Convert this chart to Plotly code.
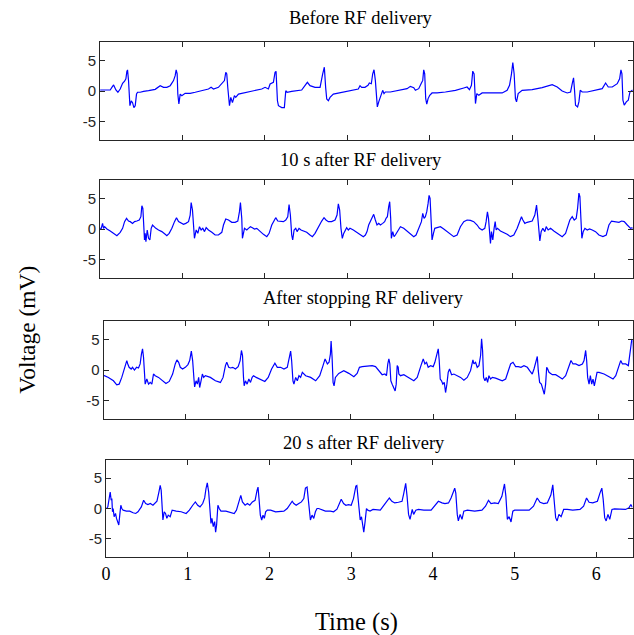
import plotly.graph_objects as go

# ---------------- data ----------------
titles = ["Before RF delivery", "10 s after RF delivery",
          "After stopping RF delivery", "20 s after RF delivery"]
x_ticks = [0, 1, 2, 3, 4, 5, 6]
y_ticks = [-5, 0, 5]
y_tick_text = ["-5", "0", "5"]

t_before = [0.0, 0.123, 0.143, 0.164, 0.192, 0.216, 0.244, 0.273, 0.297, 0.313, 0.325, 0.333, 0.345, 0.354, 0.362, 0.378,
            0.394, 0.410, 0.426, 0.442, 0.455, 0.487, 0.527, 0.588, 0.669, 0.729, 0.770, 0.810, 0.851, 0.891, 0.911, 0.923,
            0.935, 0.943, 0.956, 0.972, 0.992, 1.032, 1.093, 1.154, 1.234, 1.315, 1.347, 1.376, 1.436, 1.477, 1.509, 1.525,
            1.537, 1.549, 1.558, 1.570, 1.586, 1.606, 1.630, 1.646, 1.679, 1.760, 1.881, 1.962, 2.002, 2.042, 2.063, 2.103,
            2.123, 2.135, 2.152, 2.164, 2.204, 2.236, 2.253, 2.269, 2.325, 2.446, 2.515, 2.547, 2.608, 2.669, 2.701, 2.721,
            2.737, 2.750, 2.770, 2.790, 2.830, 2.931, 3.053, 3.133, 3.154, 3.174, 3.214, 3.251, 3.267, 3.291, 3.308, 3.324,
            3.340, 3.352, 3.364, 3.381, 3.401, 3.413, 3.429, 3.445, 3.462, 3.522, 3.623, 3.725, 3.765, 3.806, 3.826, 3.866,
            3.899, 3.915, 3.927, 3.939, 3.951, 3.964, 3.980, 4.0, 4.028, 4.089, 4.190, 4.312, 4.413, 4.453, 4.482, 4.506,
            4.522, 4.538, 4.555, 4.571, 4.595, 4.636, 4.757, 4.879, 4.939, 4.968, 4.992, 5.008, 5.024, 5.040, 5.053, 5.073,
            5.121, 5.243, 5.364, 5.486, 5.547, 5.607, 5.668, 5.709, 5.729, 5.745, 5.757, 5.769, 5.794, 5.810, 5.826, 5.850,
            5.911, 6.012, 6.093, 6.134, 6.166, 6.215, 6.275, 6.304, 6.320, 6.332, 6.344, 6.360, 6.385, 6.409, 6.429, 6.457,
            6.490]
v_before = [0.16, 0.16, 0.6, 1.0, 0.16, -0.2, 0.33, 1.26, 1.6, 2.0, 3.2, 3.44, 1.7, -1.3, -2.4, -1.6,
            -1.9, -2.7, -2.4, -0.5, -0.2, -0.2, -0.05, 0.05, 0.27, 0.87, 0.6, 0.6, 0.87, 1.7, 2.5, 3.44,
            2.8, -0.5, -2.1, -0.5, -0.77, -0.38, -0.38, -0.2, 0.05, 0.33, 0.6, 0.33, 0.6, 1.15, 1.7, 3.06,
            2.8, 0.6, -1.3, -2.4, -1.04, -1.9, -0.77, -1.04, -0.5, -0.27, 0.05, 0.33, 0.6, 0.33, 1.15, 1.42,
            3.06, 3.2, -1.6, -2.4, -2.7, -2.7, 0.05, -0.2, -0.05, 0.16, 1.42, 0.87, 0.6, 0.6, 2.8, 3.88,
            0.6, -1.3, -1.6, -1.04, -0.5, -0.2, 0.05, 0.33, 0.87, 0.6, 0.6, 0.92, 1.3, 1.19, 2.81, 3.46,
            1.73, -1.24, -2.59, -1.78, -0.97, -0.43, 0.11, -0.43, -0.16, -0.16, 0.11, 0.38, 0.76, 0.54, 0.11, 0.38,
            1.3, 1.73, 3.46, 2.81, -1.24, -2.16, -1.24, -0.7, -0.32, -0.32, -0.16, 0.11, 0.49, 0.65, 0.22, 0.92,
            3.24, 2.81, -2.05, -0.43, -0.7, -0.32, -0.32, -0.32, 0.11, 0.92, 2.81, 4.65, 2.81, -1.24, -1.78, -0.43,
            0.11, 0.22, 0.54, 1.03, 0.65, 0.0, -0.32, -0.16, 1.19, 2.16, 0.11, -2.32, -2.59, -1.78, 0.11, -0.16,
            -0.16, 0.11, 0.38, 1.3, 0.65, 0.65, 1.19, 2.0, 3.46, 2.81, -1.51, -2.32, -1.78, -1.51, -0.16, 0.11,
            -0.16]

t_10s = [0.0, 0.014, 0.030, 0.042, 0.055, 0.083, 0.123, 0.164, 0.204, 0.244, 0.273, 0.297, 0.321, 0.345, 0.366, 0.394,
         0.418, 0.446, 0.475, 0.495, 0.507, 0.519, 0.531, 0.539, 0.547, 0.556, 0.572, 0.588, 0.604, 0.620, 0.636, 0.653,
         0.677, 0.709, 0.749, 0.790, 0.810, 0.838, 0.871, 0.903, 0.927, 0.952, 0.984, 1.012, 1.040, 1.073, 1.093, 1.105,
         1.121, 1.133, 1.145, 1.166, 1.186, 1.206, 1.226, 1.246, 1.267, 1.287, 1.315, 1.356, 1.396, 1.436, 1.477, 1.497,
         1.525, 1.558, 1.598, 1.638, 1.671, 1.691, 1.703, 1.719, 1.727, 1.752, 1.780, 1.800, 1.824, 1.848, 1.873, 1.901,
         1.941, 1.982, 2.023, 2.051, 2.083, 2.111, 2.131, 2.156, 2.184, 2.224, 2.253, 2.277, 2.293, 2.309, 2.325, 2.337,
         2.354, 2.374, 2.390, 2.414, 2.438, 2.467, 2.507, 2.547, 2.576, 2.608, 2.648, 2.689, 2.717, 2.741, 2.770, 2.810,
         2.851, 2.875, 2.891, 2.907, 2.923, 2.939, 2.956, 2.972, 2.992, 3.012, 3.032, 3.073, 3.133, 3.194, 3.219, 3.239,
         3.259, 3.279, 3.300, 3.320, 3.340, 3.360, 3.381, 3.401, 3.429, 3.453, 3.470, 3.486, 3.502, 3.514, 3.526, 3.534,
         3.551, 3.567, 3.583, 3.607, 3.623, 3.644, 3.684, 3.725, 3.765, 3.806, 3.834, 3.866, 3.899, 3.915, 3.931, 3.947,
         3.964, 3.980, 3.992, 4.004, 4.016, 4.028, 4.045, 4.061, 4.089, 4.130, 4.170, 4.211, 4.251, 4.291, 4.332, 4.372,
         4.413, 4.453, 4.494, 4.534, 4.575, 4.603, 4.636, 4.668, 4.684, 4.700, 4.713, 4.725, 4.737, 4.749, 4.765, 4.781,
         4.794, 4.806, 4.822, 4.858, 4.899, 4.939, 4.980, 5.020, 5.061, 5.089, 5.113, 5.130, 5.154, 5.182, 5.211, 5.243,
         5.275, 5.296, 5.312, 5.324, 5.336, 5.352, 5.372, 5.397, 5.413, 5.437, 5.466, 5.506, 5.559, 5.607, 5.648, 5.680,
         5.700, 5.729, 5.753, 5.777, 5.794, 5.810, 5.822, 5.834, 5.846, 5.862, 5.883, 5.911, 5.939, 5.972, 6.012, 6.053,
         6.101, 6.142, 6.174, 6.206, 6.255, 6.296, 6.328, 6.360, 6.397, 6.437, 6.457, 6.478, 6.490]
v_10s = [0.11, 0.11, 0.92, 0.11, 0.38, 0.0, -0.33, -0.71, -1.09, -0.54, 0.11, 1.2, 1.74, 1.3, 1.2, 0.92,
         1.2, 1.3, 1.47, 2.01, 3.8, 3.37, 1.2, -1.79, -0.71, -2.07, -0.16, -1.52, -1.79, 0.11, 0.65, 0.38,
         0.11, -0.16, -0.43, -0.87, -1.09, -0.71, 0.11, 1.2, 1.85, 1.2, 0.92, 0.76, 0.92, 1.2, 2.28, 4.3,
         3.1, 0.11, -1.52, -0.16, -0.71, 0.38, -0.16, 0.11, -0.43, 0.22, -0.16, -0.54, -0.98, -0.98, -0.54, 0.65,
         1.63, 1.47, 1.09, 1.09, 1.3, 2.83, 4.3, 1.74, -1.52, 0.11, -0.16, 0.11, 0.38, 0.22, 0.0, 0.11,
         -0.43, -0.87, -1.25, -0.71, 0.65, 1.3, 1.85, 1.3, 1.3, 1.2, 1.47, 2.01, 4.0, 2.28, -0.98, -1.79,
         -0.16, 0.11, -0.43, 0.11, -0.16, -0.33, -0.54, -0.98, -1.25, -0.71, 0.38, 1.3, 1.85, 1.47, 1.2, 1.2,
         1.47, 2.28, 4.1, 3.1, 0.11, -1.52, -0.71, -0.16, 0.22, -0.16, 0.11, -0.16, -0.71, -1.25, -0.98, -0.43,
         0.65, 1.2, 1.74, 2.39, 1.47, 0.65, 0.92, 0.65, 0.92, 1.2, 1.74, 2.01, 3.64, 4.46, 1.74, -1.52,
         -0.43, -1.25, -0.98, -0.43, 0.11, 0.38, 0.11, -0.33, -0.71, -1.25, -0.98, 0.11, 1.2, 2.55, 1.74, 2.01,
         2.83, 4.18, 5.5, 5.0, 0.11, -1.79, -0.71, 0.11, 0.22, 0.38, 0.0, -0.43, -0.87, -1.25, -0.98, 0.38,
         1.2, 1.47, 1.41, 1.2, 0.65, 0.11, -0.16, 0.11, 1.2, 2.8, 1.74, -0.98, -2.34, -0.43, -1.79, 0.11,
         1.2, -0.16, 0.11, -0.33, -0.54, -0.87, -1.25, -0.98, 0.11, 1.2, 2.01, 1.47, 0.92, 1.09, 1.2, 1.3,
         2.28, 3.9, 1.74, -0.98, -1.96, -0.43, 0.11, -0.43, 0.38, -0.16, 0.11, -0.33, -0.87, -1.25, -0.71, 0.65,
         1.47, 2.01, 1.47, 1.74, 3.37, 5.85, 5.27, 1.74, -1.52, -0.43, 0.11, -0.16, 0.0, -0.16, -0.43, -0.98,
         -1.25, -0.98, 0.65, 1.3, 1.2, 1.09, 1.3, 1.2, 0.65, 0.11, 0.22, -0.16, 0.11]

t_stop = [0.0, 0.010, 0.059, 0.120, 0.160, 0.189, 0.221, 0.254, 0.282, 0.294, 0.310, 0.335, 0.351, 0.375, 0.400, 0.424,
          0.444, 0.460, 0.473, 0.485, 0.497, 0.505, 0.525, 0.546, 0.566, 0.586, 0.606, 0.627, 0.667, 0.708, 0.757, 0.797,
          0.838, 0.870, 0.890, 0.911, 0.931, 0.959, 0.992, 1.024, 1.045, 1.065, 1.081, 1.097, 1.105, 1.122, 1.138, 1.154,
          1.166, 1.183, 1.199, 1.215, 1.235, 1.296, 1.357, 1.418, 1.450, 1.479, 1.495, 1.519, 1.540, 1.568, 1.600, 1.633,
          1.657, 1.673, 1.686, 1.698, 1.706, 1.722, 1.742, 1.763, 1.783, 1.803, 1.819, 1.852, 1.905, 1.957, 1.998, 2.039,
          2.079, 2.108, 2.148, 2.189, 2.229, 2.249, 2.270, 2.282, 2.298, 2.310, 2.331, 2.351, 2.371, 2.391, 2.412, 2.452,
          2.513, 2.574, 2.623, 2.663, 2.688, 2.716, 2.736, 2.753, 2.761, 2.773, 2.785, 2.797, 2.813, 2.854, 2.915, 2.976,
          3.037, 3.077, 3.105, 3.138, 3.219, 3.259, 3.300, 3.340, 3.381, 3.413, 3.433, 3.449, 3.462, 3.474, 3.486, 3.502,
          3.522, 3.538, 3.551, 3.563, 3.575, 3.583, 3.603, 3.644, 3.684, 3.725, 3.765, 3.806, 3.834, 3.858, 3.879, 3.899,
          3.919, 3.939, 3.968, 4.0, 4.020, 4.045, 4.061, 4.073, 4.085, 4.101, 4.117, 4.134, 4.150, 4.166, 4.182, 4.198,
          4.223, 4.251, 4.291, 4.332, 4.372, 4.413, 4.453, 4.482, 4.494, 4.514, 4.534, 4.555, 4.575, 4.587, 4.599, 4.611,
          4.628, 4.644, 4.660, 4.676, 4.696, 4.717, 4.757, 4.798, 4.838, 4.879, 4.911, 4.939, 4.968, 5.0, 5.032, 5.065,
          5.101, 5.142, 5.170, 5.202, 5.223, 5.243, 5.263, 5.275, 5.291, 5.312, 5.332, 5.348, 5.364, 5.377, 5.389, 5.405,
          5.445, 5.486, 5.526, 5.567, 5.607, 5.640, 5.672, 5.696, 5.729, 5.769, 5.810, 5.830, 5.850, 5.862, 5.874, 5.891,
          5.907, 5.923, 5.939, 5.955, 5.972, 5.988, 6.012, 6.073, 6.134, 6.182, 6.215, 6.247, 6.275, 6.296, 6.336, 6.368,
          6.397, 6.409, 6.421, 6.433, 6.441, 6.457, 6.478]
v_stop = [-0.93, -0.93, -1.21, -1.76, -2.42, -2.31, -1.21, 0.16, 1.54, 0.99, 0.44, 0.16, 0.44, 0.0, 0.44, 0.33,
          0.99, 2.64, 3.46, 2.09, -1.21, -2.31, -1.48, -2.31, -2.03, -2.31, -0.66, -0.93, -1.21, -1.65, -2.2, -1.87,
          -0.66, 0.99, 1.65, 1.26, 0.44, 0.16, 0.44, 0.88, 1.54, 3.08, 1.54, -1.48, -2.75, -1.76, -2.31, -1.21,
          -2.86, -1.76, -0.66, -1.21, -0.93, -1.21, -1.76, -2.03, -1.21, 0.71, 1.26, 0.44, 0.33, 0.44, 0.16, 0.55,
          1.54, 3.19, 2.36, -1.21, -2.58, -1.76, -2.31, -1.48, -2.03, -1.21, -0.93, -1.21, -1.48, -1.87, -1.21, 0.16,
          1.1, 0.44, 0.44, 0.16, 0.44, 1.54, 3.08, 1.54, -1.76, -2.31, -1.21, -1.76, -0.93, -1.21, -0.38, -0.93,
          -1.21, -1.76, -0.93, 0.71, 1.81, 0.99, 1.26, 2.64, 4.73, 2.09, -2.03, -2.58, -1.21, -0.55, -0.11, -0.55,
          -1.1, -0.55, 0.44, 0.55, 0.6, 0.71, 0.55, -0.11, -0.77, -0.66, -0.93, 0.99, 1.81, 0.99, -1.76, -2.31,
          -2.86, -3.41, -2.31, 0.71, 0.44, -0.66, -0.93, -0.77, -1.1, -1.48, -1.76, -1.21, 0.16, 0.99, 1.81, 0.99,
          1.26, 0.44, 0.71, 0.55, 1.26, 2.36, 3.46, 1.54, -1.48, -1.76, -2.31, -2.03, -3.68, -2.31, -0.38, 0.16,
          -0.77, -0.66, -0.93, -1.21, -1.65, -1.21, -0.11, 1.65, 0.99, 1.26, 0.44, 0.71, 2.36, 5.11, 3.19, -1.21,
          -1.76, -1.21, -2.03, -0.93, -1.48, -1.21, -1.32, -1.48, -1.76, -1.48, -0.11, 0.99, 1.26, 0.55, 0.55, 0.44,
          0.71, 0.44, -0.11, -0.66, 0.16, 1.26, 2.2, -0.11, -2.03, -2.31, -3.13, -3.96, -2.31, 0.44, 0.16, -0.38,
          -0.77, -0.77, -1.1, -1.48, -0.93, 0.44, 1.54, 0.99, 0.99, 0.71, 0.99, 1.54, 3.19, 1.54, -1.21, -2.31,
          -0.93, -2.31, -1.48, -2.58, -1.21, -0.38, -0.38, -0.66, -1.1, -1.48, -0.93, 0.44, 1.54, 0.99, 0.99, 0.71,
          3.19, 4.95, 4.84, 0.99, -2.31, -2.86, -0.38]

t_20s = [0.0, 0.006, 0.022, 0.039, 0.051, 0.063, 0.071, 0.079, 0.087, 0.099, 0.116, 0.128, 0.144, 0.156, 0.168, 0.181,
         0.193, 0.209, 0.249, 0.290, 0.331, 0.363, 0.391, 0.432, 0.460, 0.485, 0.513, 0.542, 0.574, 0.598, 0.623, 0.647,
         0.663, 0.675, 0.688, 0.696, 0.712, 0.728, 0.744, 0.761, 0.785, 0.809, 0.858, 0.919, 0.980, 1.020, 1.061, 1.093,
         1.122, 1.150, 1.183, 1.207, 1.223, 1.239, 1.256, 1.272, 1.284, 1.296, 1.312, 1.329, 1.341, 1.353, 1.369, 1.385,
         1.406, 1.467, 1.527, 1.568, 1.596, 1.629, 1.649, 1.669, 1.702, 1.730, 1.759, 1.791, 1.824, 1.848, 1.860, 1.872,
         1.888, 1.905, 1.921, 1.937, 1.953, 1.974, 2.014, 2.075, 2.136, 2.176, 2.217, 2.249, 2.278, 2.298, 2.327, 2.359,
         2.391, 2.420, 2.440, 2.460, 2.473, 2.489, 2.501, 2.521, 2.542, 2.562, 2.582, 2.602, 2.643, 2.684, 2.744, 2.785,
         2.826, 2.854, 2.878, 2.907, 2.935, 2.968, 3.0, 3.028, 3.057, 3.069, 3.081, 3.097, 3.110, 3.126, 3.142, 3.154,
         3.170, 3.187, 3.203, 3.231, 3.267, 3.356, 3.422, 3.467, 3.498, 3.533, 3.578, 3.622, 3.644, 3.667, 3.684, 3.702,
         3.720, 3.747, 3.764, 3.791, 3.822, 3.889, 3.978, 4.022, 4.067, 4.111, 4.147, 4.191, 4.222, 4.267, 4.280, 4.298,
         4.311, 4.333, 4.356, 4.378, 4.422, 4.511, 4.6, 4.644, 4.680, 4.711, 4.756, 4.8, 4.844, 4.876, 4.893, 4.911,
         4.933, 4.956, 4.978, 5.0, 5.089, 5.178, 5.231, 5.276, 5.311, 5.356, 5.4, 5.444, 5.467, 5.484, 5.502, 5.520,
         5.542, 5.569, 5.6, 5.644, 5.711, 5.8, 5.844, 5.880, 5.911, 5.956, 6.013, 6.044, 6.067, 6.084, 6.102, 6.120,
         6.142, 6.164, 6.191, 6.222, 6.289, 6.356, 6.4, 6.422, 6.44]
v_20s = [0.0, 0.0, 0.27, 1.9, 2.72, 1.36, 1.63, -0.54, 0.0, -1.36, -0.82, -1.63, -2.45, -2.72, -1.09, 0.54,
         0.0, -0.27, -0.43, -0.43, -0.71, -0.82, -0.54, 0.27, 1.36, 0.82, 0.65, 0.82, 0.54, 0.82, 1.2, 2.72,
         3.8, 2.99, 0.0, -1.9, -0.54, -0.82, -1.63, -1.09, -1.36, -0.27, -0.43, -0.54, -0.82, -0.27, 0.54, 1.09,
         0.54, 0.27, 0.82, 1.74, 3.26, 4.24, 2.72, -1.09, -2.45, -1.63, -2.99, -2.17, -3.91, -2.72, 0.54, 0.0,
         -0.43, -0.43, -0.65, -0.82, -0.27, 1.36, 2.17, 1.09, 0.54, 0.82, 0.54, 1.09, 1.36, 2.99, 3.53, 1.63,
         -1.09, -1.9, -1.09, -1.63, -0.54, -0.27, -0.27, -0.54, -0.54, -0.43, 0.0, 0.54, 1.2, 0.82, 0.54, 0.82,
         1.09, 1.63, 3.37, 3.53, 1.63, -1.36, -1.9, -1.09, -1.63, -0.54, 0.0, 0.0, -0.27, -0.43, -0.43, -0.54,
         -0.11, 0.82, 1.52, 0.82, 0.54, 0.65, 0.54, 1.63, 3.7, 3.8, 2.17, -1.09, -1.9, -1.36, -2.72, -3.91,
         -2.17, 0.0, -0.27, -0.43, -0.16, -0.27, 0.92, 1.73, 1.19, 0.92, 1.03, 1.19, 2.54, 4.16, 2.0, -0.97,
         -1.78, -0.16, -0.97, -0.27, -0.16, -0.27, -0.27, 0.38, 1.19, 0.92, 0.81, 0.92, 1.73, 3.35, 2.54, -0.97,
         -2.05, -0.97, -1.78, -0.43, -0.27, -0.43, -0.27, 0.38, 1.35, 0.81, 0.92, 0.81, 2.0, 4.05, 2.0, -1.78,
         -1.35, -2.22, -0.43, -0.27, -0.27, -0.27, 0.38, 1.73, 1.03, 0.81, 0.92, 2.27, 3.89, 1.73, -1.51, -2.05,
         -0.97, -1.35, -0.16, -0.16, -0.27, -0.16, 0.38, 1.73, 1.03, 0.92, 1.19, 2.54, 3.35, 1.46, -1.51, -2.05,
         -0.97, -1.78, -0.16, -0.05, -0.16, -0.16, 0.11, 0.65, 0.2]

series_t = [t_before, t_10s, t_stop, t_20s]
series_v = [v_before, v_10s, v_stop, v_20s]

# ---------------- layout (pixel geometry of the reference) ----------------
W, H = 634, 635
# per panel: left px, right px, top px, bottom px, px per second, title y px
panels = [
    (96.0, 633.5, 42, 140, 83.2, 18),
    (96.0, 633.5, 180, 278, 83.2, 160),
    (99.5, 633.5, 321, 419, 83.2, 298),
    (102.0, 633.5, 460, 557, 82.5, 443),
]

AX = "#262626"
SERIF = "Liberation Serif, Times New Roman, serif"
SANS = "Liberation Sans, Arial, sans-serif"

fig = go.Figure()
layout = dict(width=W, height=H, margin=dict(l=0, r=0, t=0, b=0),
              paper_bgcolor="white", plot_bgcolor="white", showlegend=False)
annotations = []

for i, (t, v) in enumerate(zip(series_t, series_v)):
    n = "" if i == 0 else str(i + 1)
    left, right, top, bottom, pps, ty = panels[i]
    fig.add_trace(go.Scatter(x=t, y=v, mode="lines",
                             line=dict(color="#0000ff", width=1.2),
                             xaxis="x" + n, yaxis="y" + n, hoverinfo="skip"))
    xr = (right - left) / pps
    layout["xaxis" + n] = dict(
        domain=[left / W, right / W], range=[0, xr], anchor="y" + n,
        tickvals=x_ticks, ticks="inside", ticklen=5, tickcolor=AX, tickwidth=1,
        showline=True, linecolor=AX, linewidth=1, mirror="allticks",
        showgrid=False, zeroline=False, showticklabels=(i == 3),
        tickfont=dict(family=SERIF, size=18, color="black"), fixedrange=True)
    layout["yaxis" + n] = dict(
        domain=[1 - bottom / H, 1 - top / H], range=[-8, 8], anchor="x" + n,
        tickvals=y_ticks, ticktext=y_tick_text, ticks="inside", ticklen=5,
        tickcolor=AX, tickwidth=1, showline=True, linecolor=AX, linewidth=1,
        mirror="allticks", showgrid=False, zeroline=False,
        tickfont=dict(family=SANS, size=15, color=AX), fixedrange=True)
    annotations.append(dict(text=titles[i], x=(left + right) / 2 / W - 0.008, y=1 - ty / H,
                            xref="paper", yref="paper", xanchor="center", yanchor="middle",
                            showarrow=False, font=dict(family=SERIF, size=18.5, color="black")))

annotations.append(dict(text="Time (s)", x=355 / W, y=1 - 622 / H, xref="paper", yref="paper",
                        xanchor="center", yanchor="middle", showarrow=False,
                        font=dict(family=SERIF, size=24.5, color="black")))
annotations.append(dict(text="Voltage (mV)", x=22 / W, y=1 - 330 / H, xref="paper", yref="paper",
                        xanchor="center", yanchor="middle", showarrow=False, textangle=-90,
                        font=dict(family=SERIF, size=23.5, color="black")))
layout["annotations"] = annotations
fig.update_layout(**layout)
fig.write_html("out.html", config={"displayModeBar": False},
               post_script="document.body.style.margin='0';document.body.style.overflow='hidden';")
